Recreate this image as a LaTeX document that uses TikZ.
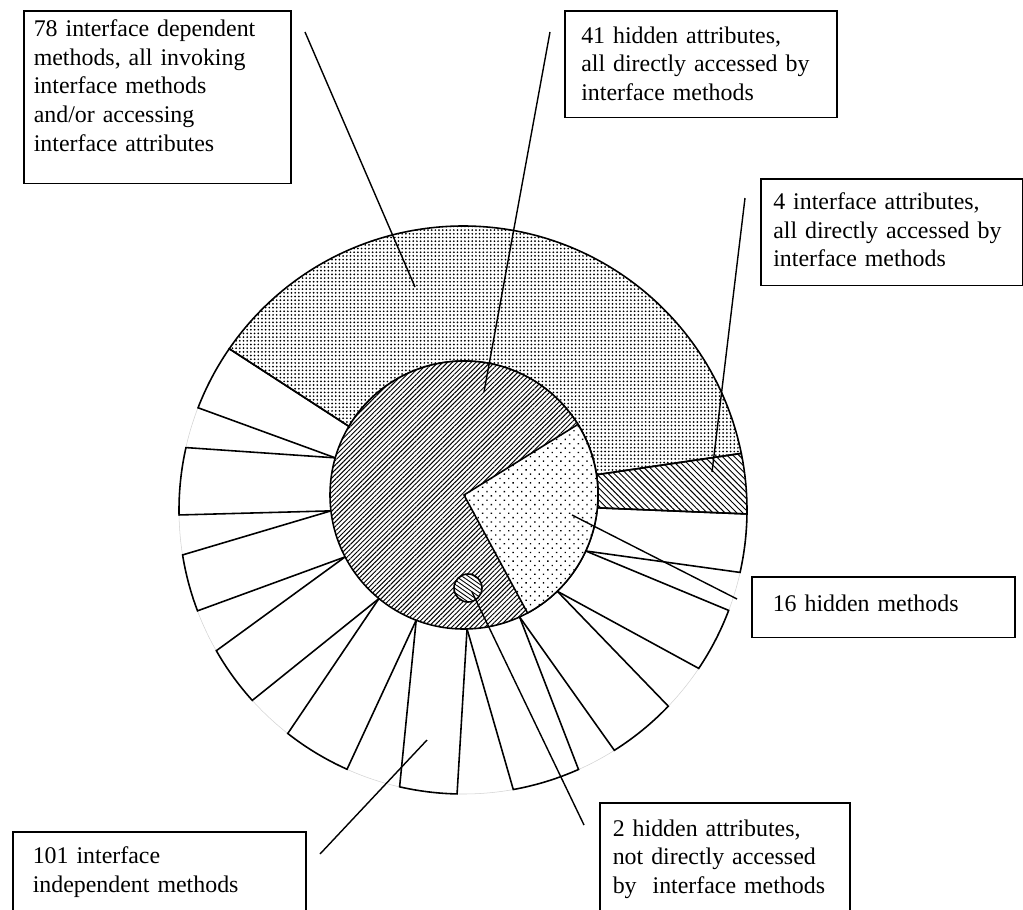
\documentclass[tikz,border=0pt]{standalone}
\usepackage{fontspec}
\setmainfont{Liberation Serif}
\usetikzlibrary{calc,patterns.meta}

\tikzset{
  infobox/.style={draw, line width=0.9pt, anchor=north west, align=left,
    font=\fontsize{13.6pt}{16.3pt}\selectfont},
  part/.style={draw, line width=0.9pt},
  leader/.style={line width=0.8pt},
}

\begin{document}
\begin{tikzpicture}[x=0.02cm, y=-0.02cm]
  \useasboundingbox (0,0) rectangle (1023,909);

  % centres of the inner circle and of the outer ring
  \coordinate (C) at (464,495);
  \coordinate (O) at (463,510);

  % faint outline of the outer ring
  \draw[gray!35, line width=0.3pt] (O) circle[radius=284];

  % interface dependent methods (dense dots)
  \draw[part, pattern={Dots[distance=2.1pt, radius=0.55pt]}]
    ($(C)+(-149.2:134)$) -- ($(O)+(-145.4:284)$)
    arc[start angle=-145.4, end angle=-11.5, radius=284]
    -- ($(C)+(-8.7:134)$) arc[start angle=-8.7, end angle=-149.2, radius=134] -- cycle;

  % interface attributes
  \draw[part, pattern={Lines[angle=-45, distance=2.4pt, line width=0.55pt]}]
    ($(C)+(-8.7:134)$) -- ($(O)+(-11.5:284)$)
    arc[start angle=-11.5, end angle=0.8, radius=284]
    -- ($(C)+(5.5:134)$) arc[start angle=5.5, end angle=-8.7, radius=134] -- cycle;

  % interface independent methods, one wedge each
  \foreach \a/\b/\c/\d in {5.5/0.8/12.7/24.7, 24.7/20.7/33.9/45.9,
      45.9/43.7/57.8/65.5, 65.5/66.0/79.8/88.7, 88.7/91.2/102.9/110.9,
      110.9/114.1/128.1/129.4, 129.4/137.9/150.3/152.5,
      152.5/159.2/170.9/173.2, 173.2/179.0/192.7/196.1,
      196.1/201.1/214.6/210.8}
    \draw[part] ($(C)+(\a:134)$) -- ($(O)+(\b:284)$)
      arc[start angle=\b, end angle=\c, radius=284] -- ($(C)+(\d:134)$);

  % hidden attributes
  \draw[part, preaction={fill=white},
    pattern={Lines[angle=45, distance=1.9pt, line width=0.55pt]}]
    (C) circle[radius=134];

  % hidden methods
  \draw[part, preaction={fill=white},
    pattern={Dots[distance=3.5pt, angle=45, radius=0.55pt]}]
    (C) -- ($(C)+(-31.8:134)$) arc[start angle=-31.8, end angle=61.7, radius=134] -- cycle;

  % the two attributes nobody reaches
  \coordinate (lone) at (468,588);
  \draw[part, preaction={fill=white},
    pattern={Lines[angle=-35, distance=2pt, line width=0.5pt]}]
    (lone) circle[radius=14];

  % labels
  \node[infobox, inner xsep=0.2cm, inner ysep=0.18cm, text width=4.94cm,
    text depth=2.76cm] (dep) at (23,10)
    {78 interface dependent\\ methods, all invoking\\ interface methods\\
     and/or accessing\\ interface attributes};
  \node[infobox, inner xsep=0.33cm, inner ysep=0.315cm, text width=4.78cm,
    text depth=1.17cm] (hattr) at (564,10)
    {41 hidden attributes,\\ all directly accessed by\\ interface methods};
  \node[infobox, inner xsep=0.25cm, inner ysep=0.275cm, text width=4.74cm,
    text depth=1.25cm] (iattr) at (760,178)
    {4 interface attributes,\\ all directly accessed by\\ interface methods};
  \node[infobox, inner xsep=0.42cm, inner ysep=0.357cm, text width=4.42cm,
    text depth=0.17cm] (hmeth) at (751,576)
    {16 hidden methods};
  \node[infobox, inner xsep=0.4cm, inner ysep=0.295cm, text width=5.06cm,
    text depth=2cm] (indep) at (12,831)
    {101 interface\\ independent methods};
  \node[infobox, inner xsep=0.26cm, inner ysep=0.335cm, text width=4.48cm,
    text depth=2.5cm] (nattr) at (599,802)
    {2 hidden attributes,\\ not directly accessed\\ by\ \ interface methods};

  % leader lines
  \coordinate (dep-a) at (305,32);   \coordinate (dep-b) at (415,287);
  \coordinate (hattr-a) at (550,32); \coordinate (hattr-b) at (484,392);
  \coordinate (iattr-a) at (745,198); \coordinate (iattr-b) at (712,472);
  \coordinate (hmeth-a) at (737,599); \coordinate (hmeth-b) at (572,515);
  \coordinate (nattr-a) at (584,825); \coordinate (nattr-b) at (472,592);
  \coordinate (indep-a) at (320,854); \coordinate (indep-b) at (427,740);
  \draw[leader] (dep-a) -- (dep-b);
  \draw[leader] (hattr-a) -- (hattr-b);
  \draw[leader] (iattr-a) -- (iattr-b);
  \draw[leader] (hmeth-a) -- (hmeth-b);
  \draw[leader] (nattr-a) -- (nattr-b);
  \draw[leader] (indep-a) -- (indep-b);
\end{tikzpicture}
\end{document}
